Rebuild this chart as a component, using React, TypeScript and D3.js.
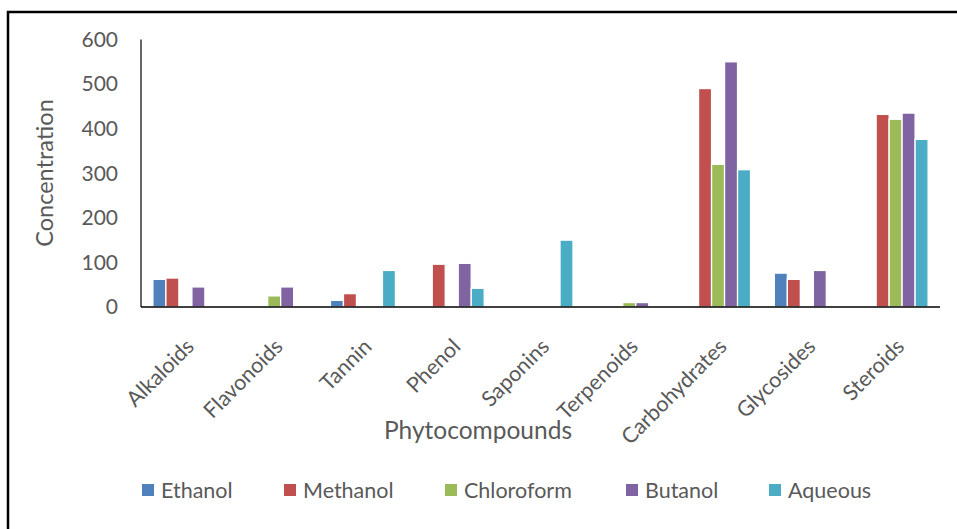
import React from "react";
import * as d3 from "d3";

const categories = [
  "Alkaloids",
  "Flavonoids",
  "Tannin",
  "Phenol",
  "Saponins",
  "Terpenoids",
  "Carbohydrates",
  "Glycosides",
  "Steroids",
];

const seriesNames = ["Ethanol", "Methanol", "Chloroform", "Butanol", "Aqueous"];
const seriesColors = ["#4F81BD", "#C0504D", "#9BBB59", "#8064A2", "#4BACC6"];

const ethanol = [62, 0, 15, 0, 0, 0, 0, 76, 0];
const methanol = [65, 0, 30, 96, 0, 0, 490, 62, 432];
const chloroform = [0, 25, 0, 0, 0, 10, 320, 0, 421];
const butanol = [45, 45, 0, 98, 0, 10, 550, 82, 435];
const aqueous = [0, 0, 82, 42, 150, 0, 308, 0, 376];

const seriesValues = [ethanol, methanol, chloroform, butanol, aqueous];
const yTicks = [0, 100, 200, 300, 400, 500, 600];

const legendX = [142, 284, 445, 626, 769];

const FONT = "Lato, 'Open Sans', sans-serif";
const GREY = "#595959";

export default function App() {
  const W = 957;
  const H = 529;
  const left = 141;
  const right = 940;
  const top = 39.5;
  const base = 307;

  const x0 = d3
    .scaleBand<string>()
    .domain(categories)
    .range([left, right])
    .paddingInner(0.268)
    .paddingOuter(0.134);
  const x1 = d3
    .scaleBand<string>()
    .domain(seriesNames)
    .range([0, x0.bandwidth()])
    .padding(0);
  const y = d3.scaleLinear().domain([0, 600]).range([base, top]);

  return (
    <svg
      width={W}
      height={H}
      style={{ position: "absolute", left: 0, top: 0, background: "#fff" }}
      fontFamily={FONT}
    >
      <rect x={0} y={0} width={W} height={H} fill="#fff" />
      {/* outer frame */}
      <rect x={8} y={12} width={1000} height={600} fill="none" stroke="#000" strokeWidth={2.5} />

      {/* bars */}
      {categories.map((c, ci) => (
        <g key={c}>
          {seriesNames.map((s, si) => {
            const v = seriesValues[si][ci];
            if (!v) return null;
            const bx = (x0(c) as number) + (x1(s) as number);
            return (
              <rect
                key={s}
                x={bx}
                y={y(v)}
                width={x1.bandwidth()}
                height={base - y(v)}
                fill={seriesColors[si]}
                stroke="#fff"
                strokeWidth={1.3}
              />
            );
          })}
        </g>
      ))}

      {/* axes */}
      <line x1={left} x2={left} y1={top} y2={base} stroke="#000" strokeWidth={1.2} />
      <line x1={left} x2={right} y1={base} y2={base} stroke="#000" strokeWidth={1.5} />

      {yTicks.map((t) => (
        <text
          key={t}
          x={118}
          y={y(t)}
          dy="0.35em"
          textAnchor="end"
          fontSize={21}
          fill={GREY}
        >
          {t}
        </text>
      ))}

      <text
        transform={`translate(53,173) rotate(-90)`}
        textAnchor="middle"
        fontSize={23.5}
        fill={GREY}
      >
        Concentration
      </text>

      {categories.map((c) => {
        const cx = (x0(c) as number) + x0.bandwidth() / 2;
        return (
          <text
            key={c}
            transform={`translate(${cx + 10},348) rotate(-45)`}
            textAnchor="end"
            fontSize={21.5}
            fill={GREY}
          >
            {c}
          </text>
        );
      })}

      <text x={478} y={439} textAnchor="middle" fontSize={24.5} fill={GREY}>
        Phytocompounds
      </text>

      {/* legend */}
      {seriesNames.map((s, i) => (
        <g key={s}>
          <rect x={legendX[i]} y={484} width={12} height={12} fill={seriesColors[i]} />
          <text x={legendX[i] + 19} y={497.5} fontSize={21.5} fill={GREY}>
            {s}
          </text>
        </g>
      ))}
    </svg>
  );
}
